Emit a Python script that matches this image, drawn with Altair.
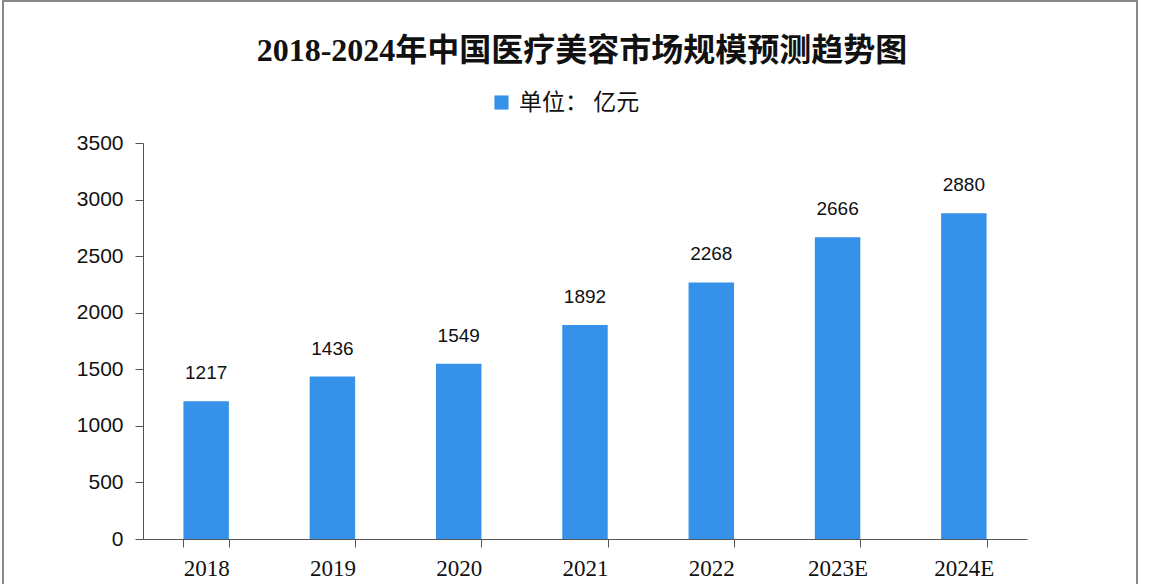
import altair as alt
import pandas as pd

years = ["2018", "2019", "2020", "2021", "2022", "2023E", "2024E"]
values = [1217, 1436, 1549, 1892, 2268, 2666, 2880]
unit_label = "单位： 亿元"
y_ticks = [0, 500, 1000, 1500, 2000, 2500, 3000, 3500]

df = pd.DataFrame({"year": years, "value": values, "unit": [unit_label] * len(years)})

BLUE = "#3592E8"
AXIS = "#555555"

x_enc = alt.X(
    "year:N",
    sort=years,
    title=None,
    scale=alt.Scale(paddingInner=0.64, paddingOuter=0.32),
    axis=alt.Axis(
        labelAngle=0,
        labelFont="Liberation Serif",
        labelFontSize=23,
        labelColor="#111111",
        labelPadding=10,
        tickBand="extent",
        tickSize=8,
        tickColor=AXIS,
        domainColor=AXIS,
        grid=False,
    ),
)
y_enc = alt.Y(
    "value:Q",
    title=None,
    scale=alt.Scale(domain=[0, 3500], nice=False),
    axis=alt.Axis(
        values=y_ticks,
        format="d",
        labelFont="Liberation Sans",
        labelFontSize=21,
        labelColor="#111111",
        labelPadding=12,
        tickSize=8,
        tickColor=AXIS,
        domainColor=AXIS,
        grid=False,
    ),
)

bars = alt.Chart(df).mark_bar().encode(
    x=x_enc,
    y=y_enc,
    color=alt.Color(
        "unit:N",
        scale=alt.Scale(range=[BLUE]),
        legend=alt.Legend(
            title=None,
            orient="none",
            legendX=347,
            legendY=-52,
            symbolType="square",
            symbolSize=200,
            symbolStrokeWidth=0,
            labelFont="Noto Sans CJK SC",
            labelFontSize=23,
            labelColor="#111111",
            labelOffset=6,
        ),
    ),
)

labels = alt.Chart(df).mark_text(
    baseline="bottom",
    dy=-18,
    font="Liberation Sans",
    fontSize=19,
    color="#111111",
).encode(x=alt.X("year:N", sort=years), y="value:Q", text="value:Q")

frame = alt.Chart(df).mark_rect(fill=None, stroke="#888888", strokeWidth=1.5).encode(
    x=alt.value(-140), x2=alt.value(994), y=alt.value(-142), y2=alt.value(470)
)

chart = (
    alt.layer(frame, bars, labels)
    .properties(
        width=884,
        height=396,
        autosize=alt.AutoSizeParams(type="none"),
        padding={"left": 143, "top": 143, "right": 135, "bottom": 45},
        background="#ffffff",
        title=alt.TitleParams(
            "2018-2024年中国医疗美容市场规模预测趋势图",
            font="Liberation Serif, Noto Sans CJK SC",
            fontSize=32,
            fontWeight="bold",
            color="#111111",
            anchor="middle",
            baseline="bottom",
            offset=-100,
            dx=-3,
        ),
    )
    .configure_view(stroke=None)
)

chart.save("out.html", embed_options={"renderer": "svg", "actions": False})
